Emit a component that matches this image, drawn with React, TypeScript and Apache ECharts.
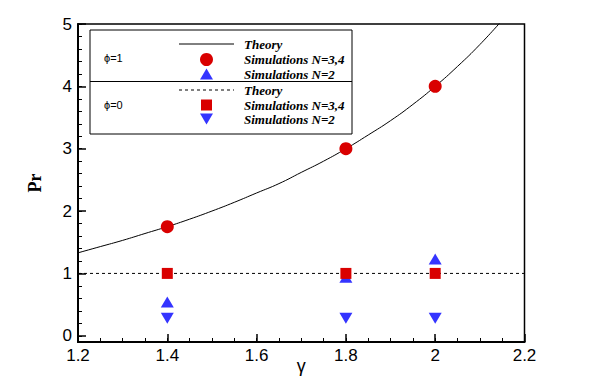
import React, { useEffect, useRef } from "react";
import * as echarts from "echarts";

// Theory curve (phi=1)
const theoryGamma = [1.2, 1.25, 1.3, 1.35, 1.4, 1.45, 1.5, 1.55, 1.6, 1.65, 1.7, 1.75, 1.8, 1.85, 1.9, 1.95, 2.0, 2.05, 2.1, 2.15];
const theoryPr1 = [1.33, 1.43, 1.53, 1.64, 1.75, 1.87, 2.0, 2.14, 2.29, 2.44, 2.62, 2.8, 3.0, 3.22, 3.45, 3.71, 4.0, 4.32, 4.67, 5.06];
// Theory phi=0
const theory0Gamma = [1.2, 2.2];
const theoryPr0 = [1, 1];
// Simulations
const simGamma = [1.4, 1.8, 2.0];
const simPhi1N34 = [1.75, 3.0, 4.0];
const simPhi1N2 = [0.54, 0.94, 1.23];
const simPhi0N34 = [1.0, 1.0, 1.0];
const simPhi0N2 = [0.28, 0.28, 0.28];

const RED = "#d90000";
const BLUE = "#3434ff";
const SERIF = "'Liberation Serif', 'DejaVu Serif', serif";
const SANS = "'Liberation Sans', Arial, sans-serif";

const zip = (xs: number[], ys: number[]) => xs.map((x, i) => [x, ys[i]]);

export default function App() {
  const ref = useRef<HTMLDivElement>(null);
  useEffect(() => {
    if (!ref.current) return;
    const chart = echarts.init(ref.current, undefined, { renderer: "svg" });
    const lx = 179, lx2 = 234, mx = 206.5, tx = 244;
    const rows = [44, 59.5, 74, 90, 105, 119];
    const legendText = (t: string, y: number) => ({
      type: "text", x: tx, y, style: { text: t, font: `bold italic 13px ${SERIF}`, fill: "#000", textVerticalAlign: "middle" },
    });
    const minorAxisCommon = {
      axisLine: { show: false, onZero: false },
      axisLabel: { show: false },
      splitLine: { show: false },
      axisTick: { show: true, inside: true, length: 4, lineStyle: { color: "#000", width: 1 } },
    };
    const option: any = {
      animation: false,
      backgroundColor: "#fff",
      grid: { left: 78, right: 73.5, top: 24, bottom: 48, show: true, borderColor: "#000", borderWidth: 1.5 },
      xAxis: [
        {
          type: "value", min: 1.2, max: 2.2, interval: 0.2,
          name: "γ", nameLocation: "middle", nameGap: 15, nameMoveOverlap: false,
          nameTextStyle: { fontFamily: SANS, fontSize: 18, color: "#000" },
          axisLine: { show: true, onZero: false, lineStyle: { color: "#000", width: 2 } },
          axisTick: { show: true, inside: true, length: 8, lineStyle: { color: "#000", width: 1.5 } },
          axisLabel: { fontFamily: SANS, fontSize: 17, color: "#000", margin: 5,
            formatter: (v: number) => String(Math.round(v * 10) / 10) },
          splitLine: { show: false },
          z: 5,
        },
        { type: "value", min: 1.2, max: 2.2, interval: 0.05, position: "bottom", ...minorAxisCommon },
      ],
      yAxis: [
        {
          type: "value", min: -0.1, max: 5, splitNumber: 5,
          name: "Pr", nameLocation: "middle", nameGap: 34, nameMoveOverlap: false,
          nameTextStyle: { fontFamily: SERIF, fontSize: 18, fontWeight: "bold", color: "#000" },
          axisLine: { show: true, onZero: false, lineStyle: { color: "#000", width: 2 } },
          axisTick: { show: true, inside: true, length: 8, lineStyle: { color: "#000", width: 1.5 } },
          axisLabel: { fontFamily: SANS, fontSize: 17, color: "#000", margin: 6,
            formatter: (v: number) => (Math.abs(v - Math.round(v)) < 1e-6 ? String(Math.round(v)) : "") },
          splitLine: { show: false },
          z: 5,
        },
        { type: "value", min: -0.1, max: 5, splitNumber: 25, position: "left", ...minorAxisCommon },
      ],
      series: [
        { type: "line", data: zip(theoryGamma, theoryPr1), smooth: true, showSymbol: false, symbol: "none",
          lineStyle: { color: "#000", width: 1 }, clip: true, z: 1 },
        { type: "line", data: zip(theory0Gamma, theoryPr0), showSymbol: false, symbol: "none",
          lineStyle: { color: "#000", width: 1, type: [3, 3] }, z: 1 },
        { type: "scatter", data: zip(simGamma, simPhi1N2), symbol: "triangle", symbolSize: [13, 11],
          itemStyle: { color: BLUE, opacity: 1 }, z: 2 },
        { type: "scatter", data: zip(simGamma, simPhi0N2), symbol: "triangle", symbolRotate: 180, symbolSize: [13, 11],
          itemStyle: { color: BLUE, opacity: 1 }, z: 2 },
        { type: "scatter", data: zip(simGamma, simPhi0N34), symbol: "rect", symbolSize: 11,
          itemStyle: { color: RED, opacity: 1 }, z: 3 },
        { type: "scatter", data: zip(simGamma, simPhi1N34), symbol: "circle", symbolSize: 13,
          itemStyle: { color: RED, opacity: 1 }, z: 3 },
      ],
      graphic: [
        { type: "rect", shape: { x: 90, y: 30, width: 262, height: 104 }, style: { fill: "#fff", stroke: "#000", lineWidth: 1 }, z: 10 },
        { type: "line", shape: { x1: 90, y1: 81.5, x2: 352, y2: 81.5 }, style: { stroke: "#000", lineWidth: 1 }, z: 11 },
        { type: "text", x: 104, y: 57.5, style: { text: "ϕ=1", font: `11px ${SANS}`, fill: "#000", textVerticalAlign: "middle" }, z: 11 },
        { type: "text", x: 104, y: 105, style: { text: "ϕ=0", font: `11px ${SANS}`, fill: "#000", textVerticalAlign: "middle" }, z: 11 },
        { type: "line", shape: { x1: lx, y1: rows[0], x2: lx2, y2: rows[0] }, style: { stroke: "#000", lineWidth: 1 }, z: 11 },
        { type: "circle", shape: { cx: mx, cy: rows[1], r: 6.5 }, style: { fill: RED }, z: 11 },
        { type: "polygon", shape: { points: [[mx - 6.5, rows[2] + 5.5], [mx + 6.5, rows[2] + 5.5], [mx, rows[2] - 5.5]] }, style: { fill: BLUE }, z: 11 },
        { type: "line", shape: { x1: lx, y1: rows[3], x2: lx2, y2: rows[3] }, style: { stroke: "#000", lineWidth: 1, lineDash: [3, 3] }, z: 11 },
        { type: "rect", shape: { x: mx - 5.5, y: rows[4] - 5.5, width: 11, height: 11 }, style: { fill: RED }, z: 11 },
        { type: "polygon", shape: { points: [[mx - 6.5, rows[5] - 5.5], [mx + 6.5, rows[5] - 5.5], [mx, rows[5] + 5.5]] }, style: { fill: BLUE }, z: 11 },
        { ...legendText("Theory", rows[0]), z: 11 },
        { ...legendText("Simulations N=3,4", rows[1]), z: 11 },
        { ...legendText("Simulations N=2", rows[2]), z: 11 },
        { ...legendText("Theory", rows[3]), z: 11 },
        { ...legendText("Simulations N=3,4", rows[4]), z: 11 },
        { ...legendText("Simulations N=2", rows[5]), z: 11 },
      ],
    };
    chart.setOption(option);
    return () => chart.dispose();
  }, []);
  return <div ref={ref} style={{ width: 598, height: 390, position: "absolute", left: 0, top: 0 }} />;
}
